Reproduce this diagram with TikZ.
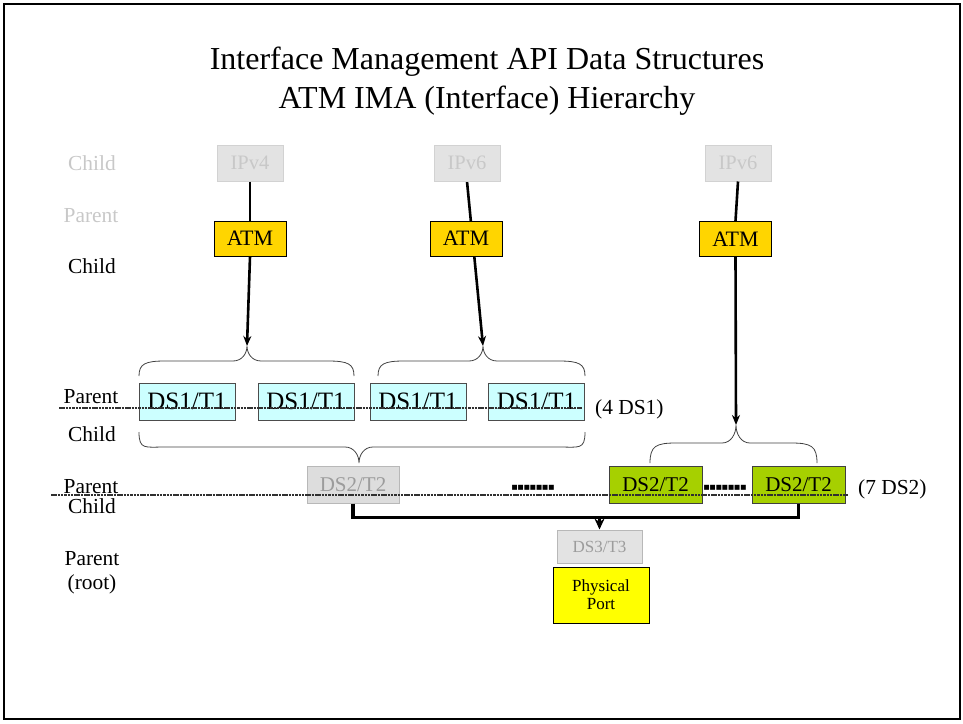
\documentclass[tikz,border=0pt]{standalone}
\usepackage{fontspec}
\setmainfont{Liberation Serif}
\newfontfamily\symfont{DejaVu Sans}
\usetikzlibrary{arrows.meta,backgrounds,calc}
\definecolor{ipfill}{HTML}{E3E3E3}
\definecolor{ipdraw}{HTML}{D2D2D2}
\definecolor{iptext}{HTML}{C8C8C8}
\definecolor{gfill}{HTML}{DDDDDD}
\definecolor{gdraw}{HTML}{B8B8B8}
\definecolor{gtext}{HTML}{9C9C9C}
\definecolor{atmfill}{HTML}{FFD500}
\definecolor{dsonefill}{HTML}{CCFFFF}
\definecolor{greenfill}{HTML}{A6D000}
\definecolor{portfill}{HTML}{FFFF00}
\definecolor{bracecol}{HTML}{404040}
\definecolor{sepcol}{HTML}{303030}
\newcommand{\hbrace}[6]{% xL xR yEnd yHoriz yTip xMid
  \draw[bracestyle] (#1,#3) .. controls (#1,{#4+3}) and ({#1+6},#4) .. ({#1+26},#4)
    -- ({#6-14},#4) .. controls ({#6-5},#4) and (#6,{#5+(#4-#5)*0.5}) .. (#6,#5)
    .. controls (#6,{#5+(#4-#5)*0.5}) and ({#6+5},#4) .. ({#6+14},#4)
    -- ({#2-26},#4) .. controls ({#2-6},#4) and (#2,{#4+3}) .. (#2,#3);}
\begin{document}
\begin{tikzpicture}[x=1pt,y={(0,-1pt)},
  fs/.style={font=\fontsize{#1}{#1}\selectfont},
  lbl/.style={anchor=base,inner sep=0pt,fs=21.4},
  glbl/.style={lbl,text=iptext},
  boxbase/.style={draw,inner sep=0pt,line width=1pt,anchor=center},
  ipbox/.style={boxbase,fill=ipfill,draw=ipdraw,text=iptext,fs=20.5,minimum width=66,minimum height=36},
  atmbox/.style={boxbase,fill=atmfill,draw=black,fs=22,minimum width=72,minimum height=35},
  dsonebox/.style={boxbase,fill=dsonefill,draw=black!70,fs=25,minimum width=96,minimum height=37},
  dstwogray/.style={boxbase,fill=gfill,draw=gdraw,text=gtext,fs=21,minimum width=92,minimum height=37},
  dstwogreen/.style={boxbase,fill=greenfill,draw=black!75,fs=21,minimum width=93,minimum height=37},
  dsthree/.style={boxbase,fill=ipfill,draw=gdraw,text=gtext,fs=17,minimum width=85,minimum height=33},
  portbox/.style={boxbase,fill=portfill,draw=black,fs=17,minimum width=96,minimum height=56,align=center},
  conn/.style={line width=2.6pt,black},
  arr/.style={conn,-{Stealth[length=10pt,width=8pt]}},
  bararr/.style={conn,-{Stealth[length=11pt,width=10pt]}},
  bracestyle/.style={bracecol,line width=0.8pt},
  sepline/.style={sepcol,line width=1.2pt,dash pattern=on 2.5pt off 0.8pt},
  dotsty/.style={inner sep=0pt,font=\symfont\fontsize{6.5}{6.5}\selectfont},
  bus/.style={line width=3.4pt,black}]
\useasboundingbox (0,0) rectangle (963,723);
\draw[line width=1.6pt] (4,4) rectangle (960,719);

% title
\node[fs=32,inner sep=0pt] (title1) at (487,62) {Interface Management API Data Structures};
\node[fs=32,inner sep=0pt] (title2) at (487,101) {ATM IMA (Interface) Hierarchy};

% left labels
\node[glbl] (l1) at (92,170) {Child};
\node[glbl] (l2) at (91,222) {Parent};
\node[lbl] (l3) at (92,273) {Child};
\node[lbl] (l4) at (91,403) {Parent};
\node[lbl] (l5) at (92,441) {Child};
\node[lbl] (l6) at (91,493) {Parent};
\node[lbl] (l7) at (92,513) {Child};
\node[lbl] (l8) at (92,565) {Parent};
\node[lbl] (l9) at (92,589) {(root)};

% coordinates for brace tips
\coordinate (tip1) at (247,346);
\coordinate (tip2) at (483,346);
\coordinate (tip3) at (736,425);
\coordinate (tip4) at (359,463);

% top row
\node[ipbox] (ipv4) at (250,163) {IPv4};
\node[ipbox] (ipv6b) at (467,163) {IPv6};
\node[ipbox] (ipv6c) at (738,163) {IPv6};

\begin{scope}[on background layer]
  \draw[arr] (ipv6b.south) -- (tip2);
\end{scope}

\node[atmbox] (atm1) at (250,238.5) {ATM};
\node[atmbox] (atm2) at (466,238.5) {ATM};
\node[atmbox] (atm3) at (735.5,239) {ATM};

\draw[conn] (ipv4.south) -- (atm1.north);
\draw[arr] (atm1.south) -- (tip1);
\draw[conn] (ipv6c.south) -- (atm3.north);
\draw[arr] (atm3.south) -- (tip3);

% braces
\hbrace{139}{354}{376}{361}{346}{247}
\hbrace{378}{585}{376}{361}{346}{483}
\hbrace{139}{585}{432}{447}{463}{359}
\hbrace{650}{817}{463}{443}{425}{736}

% DS1 row
\node[dsonebox] (dsa) at (187,401.5) {DS1/T1};
\node[dsonebox] (dsb) at (306,401.5) {DS1/T1};
\node[dsonebox] (dsc) at (418,401.5) {DS1/T1};
\node[dsonebox] (dsd) at (536.5,401.5) {DS1/T1};
\node[lbl,anchor=base west] (cnt1) at (595,414) {(4 DS1)};

% DS2 row
\node[dstwogray] (ds2a) at (353,484.5) {DS2/T2};
\node[dstwogreen] (ds2b) at (655.5,484.5) {DS2/T2};
\node[dstwogreen] (ds2c) at (798.5,484.5) {DS2/T2};
\node[lbl,anchor=base west] (cnt2) at (858,494) {(7 DS2)};
\node[dotsty] (dots1) at (533,488) {■■■■■■■};
\node[dotsty] (dots2) at (725,488) {■■■■■■■};

% separator lines
\coordinate (sep1a) at (59,408);
\coordinate (sep1b) at (582,408);
\coordinate (sep2a) at (51,495);
\coordinate (sep2b) at (848,495);
\draw[sepline] (sep1a) -- (sep1b);
\draw[sepline] (sep2a) -- (sep2b);

% bottom
\node[dsthree] (ds3) at (599.5,546.5) {DS3/T3};
\node[portbox] (port) at (601,595) {Physical\\[1pt]Port};

\draw[bus] (ds2a.south) -- ++(0,14) -| (ds2c.south);
\coordinate (busm) at (599.5,518);
\draw[bararr] (busm) -- (ds3.north);
\end{tikzpicture}
\end{document}
